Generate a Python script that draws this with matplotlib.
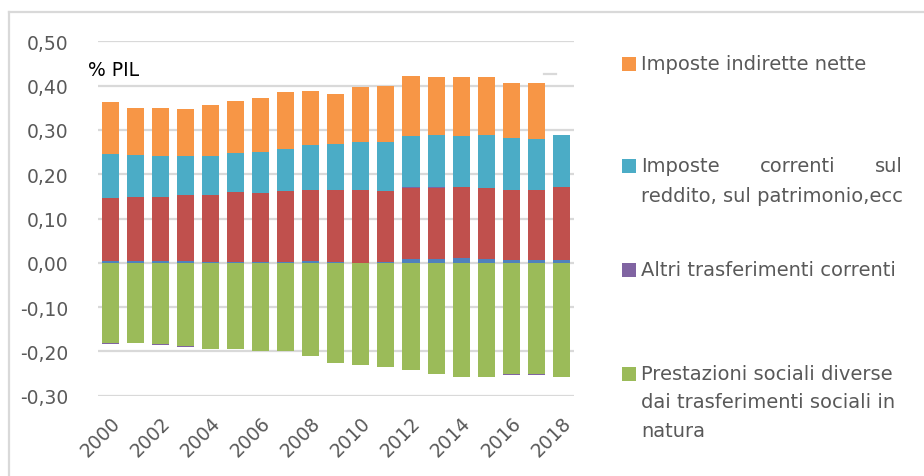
import numpy as np
import matplotlib
matplotlib.use("Agg")
from matplotlib import pyplot as plt
from matplotlib.lines import Line2D
from matplotlib.patches import Rectangle

plt.rcParams['font.family'] = ['DejaVu Sans']

years = list(range(2000, 2019))
tick_years = [y for y in years if y % 2 == 0]

# segment heights (share of GDP)
altri_contributi = [0.004, 0.004, 0.004, 0.004, 0.002, 0.002, 0.002, 0.002, 0.003, 0.002,
                    0.000, 0.002, 0.009, 0.009, 0.012, 0.009, 0.007, 0.007, 0.007]
redditi = [0.142, 0.144, 0.144, 0.149, 0.151, 0.158, 0.155, 0.160, 0.161, 0.162,
           0.164, 0.160, 0.160, 0.160, 0.159, 0.160, 0.157, 0.157, 0.164]
altri_trasf_pos = [0, 0, 0, 0, 0, 0, 0, 0, 0, 0,
                   0, 0, 0.002, 0.002, 0, 0, 0, 0, 0]
imposte_correnti = [0.099, 0.095, 0.093, 0.088, 0.088, 0.088, 0.093, 0.095, 0.102, 0.104,
                    0.109, 0.111, 0.115, 0.118, 0.115, 0.119, 0.118, 0.115, 0.117]
imposte_indirette = [0.118, 0.107, 0.109, 0.106, 0.115, 0.117, 0.122, 0.129, 0.122, 0.113,
                     0.124, 0.127, 0.136, 0.131, 0.134, 0.132, 0.123, 0.127, 0.0]
prestazioni = [-0.181, -0.180, -0.183, -0.188, -0.195, -0.195, -0.200, -0.200, -0.211, -0.227,
               -0.231, -0.236, -0.243, -0.252, -0.258, -0.258, -0.251, -0.251, -0.258]
altri_trasf_neg = [-0.002, 0, -0.002, -0.002, 0, 0, 0, 0, 0, 0,
                   0, 0, 0, 0, 0, 0, -0.002, -0.002, 0]

legend_labels = ["Imposte indirette nette",
                 "Imposte correnti sul reddito, sul patrimonio,ecc",
                 "Altri trasferimenti correnti",
                 "Prestazioni sociali diverse dai trasferimenti sociali in natura"]

C_BLUE = "#4F81BD"
C_RED = "#C0504D"
C_CYAN = "#4BACC6"
C_ORANGE = "#F79646"
C_PURPLE = "#8064A2"
C_GREEN = "#9BBB59"
GREY_TXT = "#595959"
GRID = "#D9D9D9"
FS = 13.5
FS_LEG = 14

fig = plt.figure(figsize=(9.24, 4.77), dpi=100)
ax = fig.add_axes([0.106, 0.1683, 0.515, 0.743])

x = np.arange(len(years))
w = 0.68

# positive stack
pos = np.zeros(len(years))
for vals, col in [(altri_contributi, C_BLUE), (redditi, C_RED), (altri_trasf_pos, C_PURPLE),
                  (imposte_correnti, C_CYAN), (imposte_indirette, C_ORANGE)]:
    v = np.array(vals)
    ax.bar(x, v, w, bottom=pos, color=col, linewidth=0, zorder=3)
    pos = pos + v

# negative stack
neg = np.zeros(len(years))
for vals, col in [(prestazioni, C_GREEN), (altri_trasf_neg, C_PURPLE)]:
    v = np.array(vals)
    ax.bar(x, v, w, bottom=neg, color=col, linewidth=0, zorder=3)
    neg = neg + v

ax.set_xlim(-0.5, len(years) - 0.5)
ax.set_ylim(-0.3, 0.5)
yt = np.round(np.arange(-0.3, 0.501, 0.1), 2)
ax.set_yticks(yt)
ax.set_yticklabels([("%.2f" % v).replace(".", ",").replace("-0,00", "0,00") for v in yt])
for v in yt:
    ax.axhline(v, color=GRID, lw=1.6, zorder=1)

ax.set_xticks([years.index(y) for y in tick_years])
ax.set_xticklabels([str(y) for y in tick_years], rotation=45, ha='right',
                   rotation_mode='anchor')
ax.tick_params(axis='both', length=0, labelsize=FS, colors=GREY_TXT)
ax.tick_params(axis='y', pad=21)
ax.tick_params(axis='x', pad=12)
for s in ax.spines.values():
    s.set_visible(False)

fig.text(88 / 924, 1 - 70 / 477, "% PIL", fontsize=FS, color="black", va='center')

# chart border (top and left only visible)
fig.add_artist(Line2D([9 / 924, 1], [1 - 13 / 477, 1 - 13 / 477], color=GRID, lw=1.6))
fig.add_artist(Line2D([9 / 924, 9 / 924], [0, 1 - 13 / 477], color=GRID, lw=1.6))
fig.add_artist(Line2D([544 / 924, 556 / 924], [1 - 75 / 477, 1 - 75 / 477], color=GRID, lw=1.6))

# legend, drawn by hand to keep the justified layout
def legend_square(ycen, col):
    fig.add_artist(Rectangle((622 / 924, 1 - (ycen + 7) / 477), 14 / 924, 14 / 477,
                             transform=fig.transFigure, color=col, lw=0))

def legend_line(xpx, ypx, s, ha='left'):
    fig.text(xpx / 924, 1 - ypx / 477, s, fontsize=FS_LEG, color=GREY_TXT, va='center', ha=ha)

legend_square(65, C_ORANGE)
legend_line(641, 65, legend_labels[0])

legend_square(167, C_CYAN)
w1 = legend_labels[1].split(" ")
legend_line(641, 167, w1[0])
legend_line(760, 167, w1[1])
legend_line(903, 167, w1[2], ha='right')
legend_line(641, 196, " ".join(w1[3:]))

legend_square(271, C_PURPLE)
legend_line(641, 271, legend_labels[2])

legend_square(375, C_GREEN)
w3 = legend_labels[3].split(" ")
legend_line(641, 375, " ".join(w3[:3]))
legend_line(641, 403, " ".join(w3[3:7]))
legend_line(641, 432, w3[7])

fig.savefig("out.png", dpi=100)
